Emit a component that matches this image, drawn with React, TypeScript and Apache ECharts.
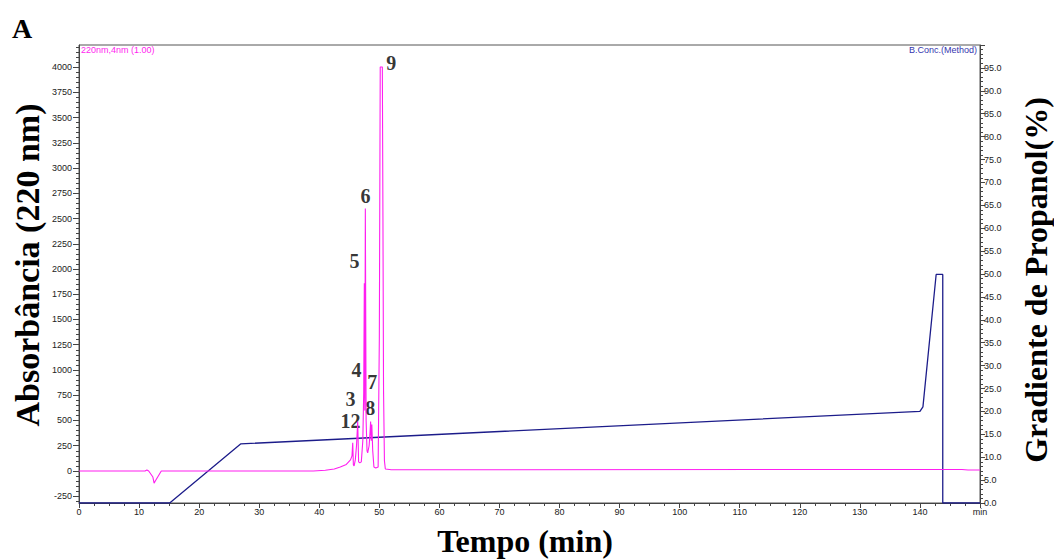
import React, { useEffect, useRef } from "react";
import * as echarts from "echarts";

// Absorbance trace (220 nm), time in minutes
const absTime = [0, 11.0, 11.3, 11.6, 12.3, 12.5, 12.8, 13.7, 39, 41, 42.5, 43.5, 44.5, 45.2, 45.45, 45.57, 45.68, 45.8, 46.0, 46.2, 46.4, 46.55, 46.75, 47.0, 47.25, 47.4, 47.5, 47.58, 47.67, 47.8, 47.95, 48.06, 48.3, 48.45, 48.55, 48.65, 48.75, 48.9, 49.1, 49.4, 49.8, 50.0, 50.15, 50.5, 50.6, 50.7, 50.85, 51.0, 52, 140, 147, 148, 150];
const absValue = [0, 0, 10, 0, -60, -120, -90, 0, 0, 8, 20, 40, 65, 110, 150, 280, 60, 50, 110, 250, 490, 90, 80, 90, 300, 780, 1860, 600, 2600, 500, 200, 180, 250, 380, 490, 300, 460, 200, 40, 30, 40, 1320, 4000, 4000, 2520, 800, 100, 20, 12, 15, 15, 10, 10];

// Propanol gradient (%)
const gradTime = [0, 15.1, 26.9, 140, 140.5, 142.7, 143.8, 143.8, 150];
const gradValue = [0, 0, 12.9, 20, 21, 49.9, 49.9, 0, 0];

// Peak labels
const peakNames = ["9", "6", "5", "4", "7", "3", "8", "12"];
const peakTime = [52.0, 47.7, 45.85, 46.2, 48.8, 45.2, 48.5, 45.2];
const peakValue = [4040, 2723, 2079, 1000, 881, 715, 624, 490];

const leftLabels = [-250, 0, 250, 500, 750, 1000, 1250, 1500, 1750, 2000, 2250, 2500, 2750, 3000, 3250, 3500, 3750, 4000];

export default function App() {
  const ref = useRef<HTMLDivElement>(null);
  useEffect(() => {
    const chart = echarts.init(ref.current!, undefined, { renderer: "svg" });
    const minorLeft: number[] = [];
    for (let v = -300; v <= 4200; v += 50) minorLeft.push(v);
    const tickFont = { fontFamily: "Liberation Sans", fontSize: 9, color: "#222" };
    const axisLine = { show: true, onZero: false, lineStyle: { color: "#444", width: 1 } };
    const serifBold = { fontFamily: "Liberation Serif", fontWeight: "bold" as const, fill: "#000" };
    chart.setOption({
      animation: false,
      grid: { left: 79, right: 74, top: 45, bottom: 56, show: true, borderColor: "#555", borderWidth: 1 },
      xAxis: [
        {
          type: "value", min: 0, max: 150, interval: 10,
          axisLine, splitLine: { show: false },
          axisTick: { show: true, length: 5, lineStyle: { color: "#444" } },
          minorTick: { show: true, splitNumber: 4, length: 3, lineStyle: { color: "#444" } },
          axisLabel: { ...tickFont, margin: 4, formatter: (v: number) => (v === 150 ? "min" : String(v)) },
        },
      ],
      yAxis: [
        {
          type: "value", min: -317, max: 4218, position: "left",
          axisLine, splitLine: { show: false },
          axisTick: { show: true, length: 3, customValues: minorLeft, lineStyle: { color: "#444" } },
          axisLabel: { ...tickFont, margin: 7, customValues: leftLabels, formatter: (v: number) => String(v) },
        },
        {
          type: "value", min: 0, max: 100, interval: 5, position: "right",
          axisLine, splitLine: { show: false },
          axisTick: { show: true, length: 5, lineStyle: { color: "#444" } },
          minorTick: { show: true, splitNumber: 5, length: 3, lineStyle: { color: "#444" } },
          axisLabel: { ...tickFont, margin: 4, formatter: (v: number) => (v >= 100 ? "" : v.toFixed(1)) },
        },
        {
          type: "value", min: -317, max: 4218, position: "left",
          axisLine: { show: false }, splitLine: { show: false },
          axisTick: { show: true, length: 6, customValues: leftLabels, lineStyle: { color: "#444" } },
          axisLabel: { show: false },
        },
      ],
      series: [
        {
          type: "line", yAxisIndex: 1, symbol: "none",
          data: gradTime.map((t, i) => [t, gradValue[i]]),
          lineStyle: { color: "#1c1c8a", width: 1.3 },
        },
        {
          type: "line", yAxisIndex: 0, symbol: "none",
          data: absTime.map((t, i) => [t, absValue[i]]),
          lineStyle: { color: "#ff1ef0", width: 1.1 },
        },
        {
          type: "scatter", yAxisIndex: 0, symbolSize: 0,
          data: peakNames.map((n, i) => ({ name: n, value: [peakTime[i], peakValue[i]] })),
          label: {
            show: true, position: "inside", formatter: "{b}",
            fontFamily: "Liberation Serif", fontWeight: "bold", fontSize: 20, lineHeight: 18, color: "#000",
          },
        },
      ],
      graphic: [
        { type: "text", left: 12, top: 14, style: { ...serifBold, text: "A", fontSize: 28 } },
        { type: "text", left: 81, top: 45, style: { text: "220nm,4nm (1.00)", fontFamily: "Liberation Sans", fontSize: 9, fill: "#ff1ef0" } },
        { type: "text", right: 77, top: 45, style: { text: "B.Conc.(Method)", fontFamily: "Liberation Sans", fontSize: 9, fill: "#3535b0" } },
        {
          type: "text", x: 27, y: 265, rotation: Math.PI / 2,
          style: { ...serifBold, text: "Absorbância (220 nm)", fontSize: 34, align: "center", verticalAlign: "middle" },
        },
        {
          type: "text", x: 1036, y: 280, rotation: Math.PI / 2,
          style: { ...serifBold, text: "Gradiente de Propanol(%)", fontSize: 32, align: "center", verticalAlign: "middle" },
        },
        {
          type: "text", x: 525, y: 541,
          style: { ...serifBold, text: "Tempo (min)", fontSize: 32, align: "center", verticalAlign: "middle" },
        },
      ],
    });
    return () => chart.dispose();
  }, []);
  return <div ref={ref} style={{ position: "fixed", left: 0, top: 0, width: 1054, height: 559, background: "#fff" }} />;
}
